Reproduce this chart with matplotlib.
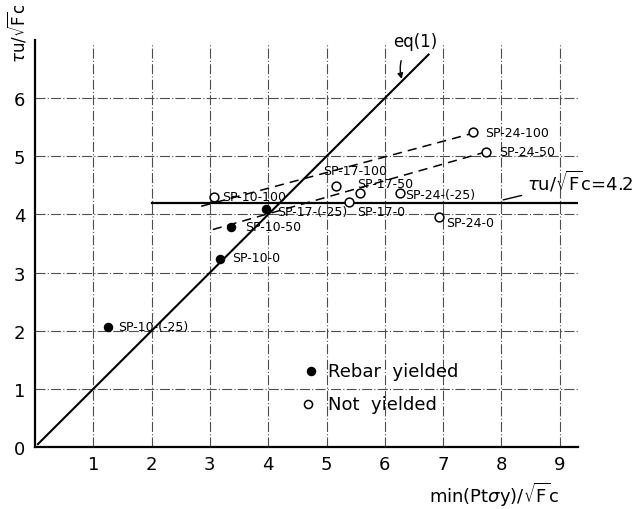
import matplotlib
matplotlib.use('Agg')
import matplotlib.pyplot as plt

# specimen data: x = min(Pt*sy)/sqrt(Fc), y = tau_u/sqrt(Fc)
yielded_names = ['SP-10-(-25)', 'SP-10-0', 'SP-10-50', 'SP-17-(-25)']
yielded_x = [1.25, 3.17, 3.36, 3.96]
yielded_y = [2.07, 3.24, 3.79, 4.09]

open_names = ['SP-10-100', 'SP-17-100', 'SP-17-50', 'SP-17-0',
              'SP-24-100', 'SP-24-50', 'SP-24-(-25)', 'SP-24-0']
open_x = [3.07, 5.16, 5.57, 5.39, 7.51, 7.74, 6.26, 6.93]
open_y = [4.30, 4.49, 4.37, 4.22, 5.41, 5.08, 4.36, 3.95]

# label offsets in points (dx, dy)
yielded_off = [(7, 0), (9, 1), (10, 0), (8, -2)]
open_off = [(6, 0), (-9, 11), (-2, 7), (6, -7), (9, 0), (9, 0), (4, -1), (5, -4)]

# reference lines
eq1_x = [0.05, 6.75]
eq1_y = [0.05, 6.75]
limit_x = [2.0, 9.35]
limit_y = [4.2, 4.2]
trend_hi_x = [2.85, 7.45]
trend_hi_y = [4.14, 5.38]
trend_lo_x = [3.05, 7.68]
trend_lo_y = [3.74, 5.06]

xticks = [1, 2, 3, 4, 5, 6, 7, 8, 9]
yticks = [0, 1, 2, 3, 4, 5, 6]

fig = plt.figure(figsize=(6.37, 5.10), dpi=100)
ax = fig.add_axes([0.055, 0.1216, 0.853, 0.798])
ax.set_xlim(0, 9.32)
ax.set_ylim(0, 7.0)

for s in ['top', 'right']:
    ax.spines[s].set_visible(False)
for s in ['left', 'bottom']:
    ax.spines[s].set_linewidth(1.6)
    ax.spines[s].set_color('black')

ax.set_xticks(xticks)
ax.set_yticks(yticks)
ax.tick_params(length=0, labelsize=13)
ax.tick_params(axis='x', pad=6)
ax.tick_params(axis='y', pad=7)

# irregular dash-dot grid
for gx in xticks:
    ax.plot([gx, gx], [0, 6.95], color='0.3', lw=0.8, ls=(0, (9, 2, 1, 2)), zorder=1)
for gy in yticks[1:]:
    ax.plot([0, 9.32], [gy, gy], color='0.3', lw=0.8, ls=(0, (9, 2, 1, 2)), zorder=1)

ax.plot(eq1_x, eq1_y, color='black', lw=1.5, zorder=3)
ax.plot(limit_x, limit_y, color='black', lw=1.6, zorder=3)
ax.plot(trend_hi_x, trend_hi_y, color='black', lw=1.1, dashes=(6, 4), zorder=3)
ax.plot(trend_lo_x, trend_lo_y, color='black', lw=1.1, dashes=(6, 4), zorder=3)

ax.scatter(yielded_x, yielded_y, s=34, color='black', edgecolor='black', zorder=5)
ax.scatter(open_x, open_y, s=40, facecolor='white', edgecolor='black', lw=1.1, zorder=5)

for n, x, y, o in zip(yielded_names, yielded_x, yielded_y, yielded_off):
    ax.annotate(n, (x, y), xytext=o, textcoords='offset points',
                fontsize=9, va='center', ha='left', zorder=6)
for n, x, y, o in zip(open_names, open_x, open_y, open_off):
    ax.annotate(n, (x, y), xytext=o, textcoords='offset points',
                fontsize=9, va='center', ha='left', zorder=6)

# eq(1) label with curved pointer
ax.annotate('eq(1)', xy=(6.29, 6.33), xytext=(6.53, 6.98),
            fontsize=12, ha='center', va='center', annotation_clip=False,
            arrowprops=dict(arrowstyle='-|>', color='black', lw=1,
                            connectionstyle='arc3,rad=0.35', shrinkA=6, shrinkB=0,
                            mutation_scale=8))

# limit label
ax.annotate(r'$\tau$u/$\sqrt{\mathrm{F}}$c=4.2', xy=(8.03, 4.25), xytext=(8.44, 4.57),
            fontsize=13, ha='left', va='center', annotation_clip=False,
            arrowprops=dict(arrowstyle='-', color='black', lw=1,
                            shrinkA=2, shrinkB=0))

# legend drawn as marks + text
ax.scatter([4.73], [1.30], s=34, color='black', zorder=5)
ax.scatter([4.69], [0.74], s=34, facecolor='white', edgecolor='black', lw=1.1, zorder=5)
ax.text(5.03, 1.30, 'Rebar  yielded', fontsize=13, va='center', ha='left')
ax.text(5.03, 0.74, 'Not  yielded', fontsize=13, va='center', ha='left')

fig.text(0.027, 0.935, r'$\tau$u/$\sqrt{\mathrm{F}}$c', rotation=90,
         fontsize=12, ha='center', va='center')
fig.text(0.878, 0.03, r'min(Pt$\sigma$y)/$\sqrt{\mathrm{F}}$c',
         fontsize=13, ha='right', va='center')

fig.savefig('out.png', dpi=100, facecolor='white')
